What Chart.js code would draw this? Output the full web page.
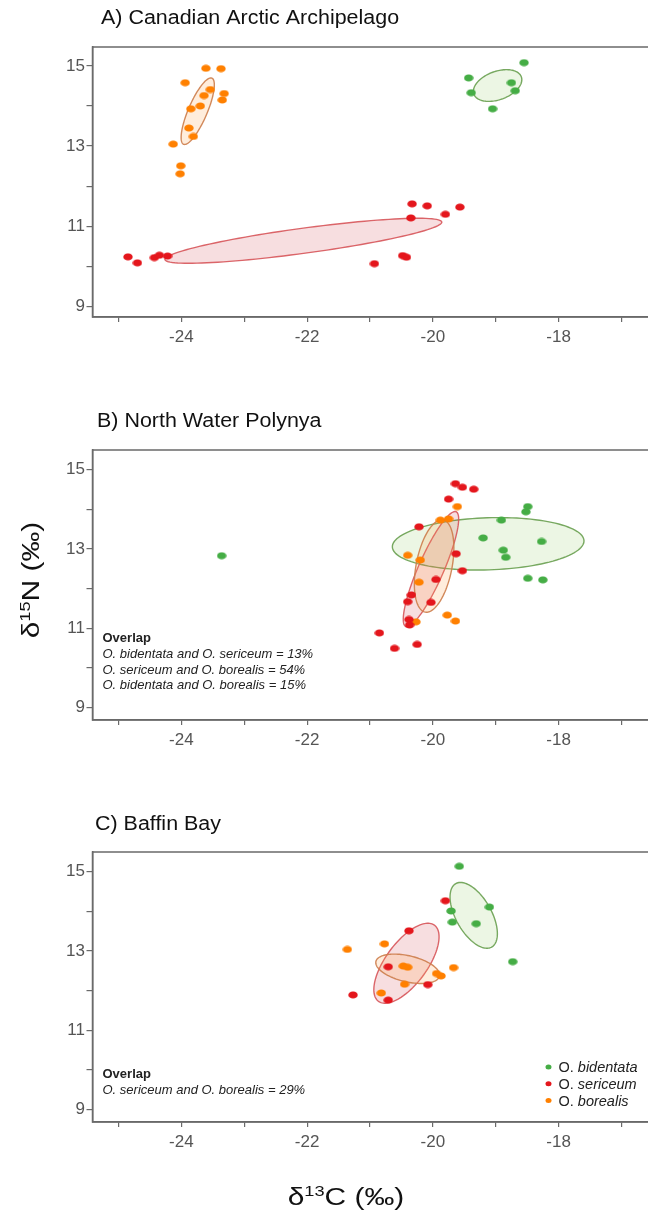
<!DOCTYPE html>
<html>
<head>
<meta charset="utf-8">
<script src="https://cdn.jsdelivr.net/npm/chart.js@4.4.1/dist/chart.umd.min.js"></script>
<style>
  body { margin: 0; width: 648px; height: 1216px; overflow: hidden; background: #fff; position: relative; }
  canvas { position: absolute; left: 0; }
</style>
</head>
<body>
<canvas id="panelA" width="700" height="380" style="top:0px"></canvas>
<canvas id="panelB" width="700" height="405" style="top:380px"></canvas>
<canvas id="panelC" width="700" height="431" style="top:785px"></canvas>
<script>
// axis ticks
const xTicks = [-25, -24, -23, -22, -21, -20, -19, -18, -17, -16];
const xTickLabels = [-24, -22, -20, -18];
const yTicks = [9, 10, 11, 12, 13, 14, 15];
const yTickLabels = [9, 11, 13, 15];

const species = ["bidentata", "sericeum", "borealis"];

// A) Canadian Arctic Archipelago  [d13C, d15N]
const aBidentata = [[-19.43, 14.70], [-18.55, 15.08], [-19.39, 14.33], [-18.75, 14.58], [-18.69, 14.38], [-19.05, 13.93]];
const aSericeum = [[-24.85, 10.24], [-24.70, 10.09], [-24.43, 10.22], [-24.35, 10.28], [-24.22, 10.26], [-20.93, 10.07],
  [-20.48, 10.27], [-20.42, 10.23], [-20.33, 11.56], [-20.09, 11.51], [-20.35, 11.21], [-19.80, 11.30], [-19.57, 11.48]];
const aBorealis = [[-23.61, 14.94], [-23.37, 14.93], [-23.94, 14.58], [-23.54, 14.41], [-23.64, 14.26], [-23.32, 14.31],
  [-23.35, 14.15], [-23.85, 13.93], [-23.70, 14.00], [-23.88, 13.45], [-23.81, 13.24], [-24.13, 13.05], [-24.01, 12.51], [-24.02, 12.31]];

// B) North Water Polynya
const bBidentata = [[-23.36, 12.83], [-18.91, 13.73], [-18.49, 14.07], [-18.52, 13.94], [-19.20, 13.28], [-18.27, 13.19],
  [-18.88, 12.97], [-18.84, 12.79], [-18.49, 12.26], [-18.25, 12.22]];
const bSericeum = [[-19.64, 14.65], [-19.53, 14.56], [-19.35, 14.51], [-19.75, 14.26], [-20.22, 13.56], [-19.63, 12.88],
  [-19.53, 12.45], [-19.95, 12.23], [-20.34, 11.84], [-20.40, 11.67], [-20.03, 11.65], [-20.38, 11.22], [-20.37, 11.08],
  [-20.85, 10.88], [-20.61, 10.49], [-20.25, 10.59]];
const bBorealis = [[-19.61, 14.07], [-19.88, 13.73], [-19.75, 13.76], [-20.40, 12.84], [-20.20, 12.72], [-20.22, 12.16],
  [-20.27, 11.16], [-19.77, 11.33], [-19.64, 11.18]];

// C) Baffin Bay
const cBidentata = [[-19.58, 15.14], [-19.10, 14.11], [-19.71, 14.01], [-19.69, 13.73], [-19.31, 13.69], [-18.73, 12.73]];
const cSericeum = [[-19.80, 14.27], [-20.38, 13.51], [-20.71, 12.60], [-20.08, 12.15], [-21.27, 11.89], [-20.71, 11.76]];
const cBorealis = [[-21.36, 13.04], [-20.77, 13.18], [-20.47, 12.62], [-20.40, 12.59], [-19.67, 12.58], [-19.94, 12.43],
  [-19.87, 12.37], [-20.45, 12.16], [-20.82, 11.94]];

// standard ellipses: centre x, centre y, then two conjugate semi-axes (dx, dy) in axis units
const aEllipses = [[-18.97, 14.51, 0.375, 0.225, -0.088, 0.325], [-22.06, 10.64, 2.202, 0.468, -0.030, 0.309], [-23.74, 13.87, 0.224, 0.825, 0.140, -0.084]];
const bEllipses = [[-19.12, 13.13, 1.524, 0.080, -0.015, 0.658], [-20.03, 12.49, 0.399, 1.451, 0.187, -0.116], [-19.98, 12.57, 0.141, 1.165, 0.281, -0.077]];
const cEllipses = [[-19.35, 13.90, 0.278, -0.808, 0.254, 0.197], [-20.42, 12.69, 0.438, 0.970, 0.278, -0.284], [-20.40, 12.55, 0.505, -0.190, 0.053, 0.319]];

const bOverlap = ["O. bidentata and O. sericeum = 13%", "O. sericeum and O. borealis = 54%", "O. bidentata and O. borealis = 15%"];
const cOverlap = ["O. sericeum and O. borealis = 29%"];

const dotColors = ["#45ad45", "#e4161c", "#ff8000"];
const fillColors = ["rgba(140,200,95,0.17)", "rgba(205,60,70,0.17)", "rgba(255,165,80,0.2)"];
const lineColors = ["rgba(105,160,80,0.9)", "rgba(215,85,90,0.9)", "rgba(205,125,75,0.9)"];
const FONT = "Liberation Sans, Arial, sans-serif";

function dot(color) {
  const c = document.createElement("canvas");
  c.width = 10; c.height = 8;
  const g = c.getContext("2d");
  g.fillStyle = color;
  g.beginPath();
  g.ellipse(5, 4, 4.7, 3.6, 0, 0, 2 * Math.PI);
  g.fill();
  return c;
}

// text pieces drawn one after another, widened by sx
function rich(ctx, x, y, parts, sx) {
  ctx.save();
  ctx.translate(x, y);
  ctx.scale(sx, 1);
  let px = 0;
  parts.forEach(([text, font, dy]) => {
    ctx.font = font;
    ctx.fillText(text, px, dy || 0);
    px += ctx.measureText(text).width;
  });
  ctx.restore();
}

function richWidth(ctx, parts, sx) {
  let w = 0;
  parts.forEach(([text, font]) => { ctx.font = font; w += ctx.measureText(text).width; });
  return w * sx;
}

function decor(cfg) {
  return {
    id: "decor",
    beforeDatasetsDraw(chart) {
      const { ctx, chartArea: a, scales: { x, y } } = chart;
      ctx.save();
      ctx.beginPath();
      ctx.rect(a.left, a.top, a.right - a.left, a.bottom - a.top);
      ctx.clip();
      cfg.ellipses.forEach((e, i) => {
        const [cx, cy, ux, uy, vx, vy] = e;
        ctx.beginPath();
        for (let k = 0; k <= 120; k++) {
          const t = k / 120 * 2 * Math.PI;
          const px = x.getPixelForValue(cx + ux * Math.cos(t) + vx * Math.sin(t));
          const py = y.getPixelForValue(cy + uy * Math.cos(t) + vy * Math.sin(t));
          if (k === 0) ctx.moveTo(px, py); else ctx.lineTo(px, py);
        }
        ctx.closePath();
        ctx.fillStyle = fillColors[i];
        ctx.fill();
        ctx.strokeStyle = lineColors[i];
        ctx.lineWidth = 1.4;
        ctx.stroke();
      });
      ctx.restore();
    },
    afterDraw(chart) {
      const { ctx, chartArea: a } = chart;
      ctx.save();
      ctx.strokeStyle = "#6a6a6a";
      ctx.lineWidth = 1.5;
      ctx.strokeRect(a.left, a.top, a.right - a.left, a.bottom - a.top);
      ctx.textBaseline = "alphabetic";

      ctx.fillStyle = "#111";
      rich(ctx, cfg.titleX, cfg.titleY, [[cfg.title, "19.5px " + FONT]], 1.1);

      if (cfg.overlap) {
        ctx.fillStyle = "#222";
        ctx.font = "bold 13px " + FONT;
        ctx.fillText("Overlap", 102.5, cfg.overlapY);
        ctx.font = "italic 13px " + FONT;
        cfg.overlap.forEach((line, i) => ctx.fillText(line, 102.5, cfg.overlapY + 15.8 * (i + 1)));
      }

      if (cfg.legend) {
        species.forEach((name, i) => {
          const yy = cfg.legendY + 16.8 * i;
          ctx.fillStyle = dotColors[i];
          ctx.beginPath();
          ctx.ellipse(548.5, yy - 5, 3, 2.5, 0, 0, 2 * Math.PI);
          ctx.fill();
          ctx.fillStyle = "#222";
          rich(ctx, 558.5, yy, [["O. ", "14.5px " + FONT], [name, "italic 14.5px " + FONT]], 1);
        });
      }

      const titleParts = (sup, rest) => [["δ", "23px " + FONT], [sup, "14px " + FONT, -9], [rest, "23px " + FONT]];

      if (cfg.yTitle) {
        const parts = titleParts("15", "N (‰)");
        ctx.save();
        ctx.translate(cfg.yTitle[0], cfg.yTitle[1]);
        ctx.rotate(-Math.PI / 2);
        ctx.fillStyle = "#111";
        const w = richWidth(ctx, parts, 1.3);
        rich(ctx, -w / 2, 0, parts, 1.3);
        ctx.restore();
      }

      if (cfg.xTitle) {
        const parts = titleParts("13", "C (‰)");
        ctx.fillStyle = "#111";
        const w = richWidth(ctx, parts, 1.3);
        rich(ctx, cfg.xTitle[0] - w / 2, cfg.xTitle[1], parts, 1.3);
      }
      ctx.restore();
    }
  };
}

function makePanel(id, sets, cfg) {
  const canvas = document.getElementById(id);
  const axisColor = "#6a6a6a";
  const tickFont = { family: FONT, size: 17 };
  new Chart(canvas, {
    type: "scatter",
    data: {
      datasets: sets.map((pts, i) => ({
        label: "O. " + species[i],
        data: pts.map(p => ({ x: p[0], y: p[1] })),
        pointStyle: dot(dotColors[i]),
        pointRadius: 4,
      })),
    },
    options: {
      responsive: false,
      animation: false,
      layout: { padding: { top: cfg.padTop, left: 0, right: 0, bottom: 0 } },
      plugins: { legend: { display: false }, tooltip: { enabled: false } },
      scales: {
        x: {
          type: "linear",
          min: -25.414,
          max: -15.83,
          afterBuildTicks: s => { s.ticks = xTicks.map(v => ({ value: v })); },
          afterFit: s => { s.height = canvas.height - cfg.padTop - 270; },
          ticks: {
            autoSkip: false, maxRotation: 0, includeBounds: false, padding: 5,
            color: "#555", font: tickFont,
            callback: v => (xTickLabels.includes(v) ? String(v) : ""),
          },
          grid: { drawOnChartArea: false, drawTicks: true, tickLength: 5, color: axisColor, lineWidth: 1.2 },
          border: { display: true, color: axisColor, width: 1.5 },
        },
        y: {
          type: "linear",
          min: cfg.yMin,
          max: cfg.yMax,
          afterBuildTicks: s => { s.ticks = yTicks.map(v => ({ value: v })); },
          afterFit: s => { s.width = 92.5; },
          ticks: {
            autoSkip: false, includeBounds: false, padding: 1.5,
            color: "#555", font: tickFont,
            callback: v => (yTickLabels.includes(v) ? String(v) : ""),
          },
          grid: { drawOnChartArea: false, drawTicks: true, tickLength: 6, color: axisColor, lineWidth: 1.2 },
          border: { display: true, color: axisColor, width: 1.5 },
        },
      },
    },
    plugins: [decor(cfg)],
  });
}

makePanel("panelA", [aBidentata, aSericeum, aBorealis], {
  padTop: 47, yMin: 8.74, yMax: 15.47, ellipses: aEllipses,
  title: "A) Canadian Arctic Archipelago", titleX: 101, titleY: 24,
});
makePanel("panelB", [bBidentata, bSericeum, bBorealis], {
  padTop: 70, yMin: 8.68, yMax: 15.5, ellipses: bEllipses,
  title: "B) North Water Polynya", titleX: 97, titleY: 47,
  overlap: bOverlap, overlapY: 262,
  yTitle: [39, 200],
});
makePanel("panelC", [cBidentata, cSericeum, cBorealis], {
  padTop: 67, yMin: 8.68, yMax: 15.5, ellipses: cEllipses,
  title: "C) Baffin Bay", titleX: 95, titleY: 45,
  overlap: cOverlap, overlapY: 293,
  legend: true, legendY: 287,
  xTitle: [346, 420],
});
</script>
</body>
</html>
